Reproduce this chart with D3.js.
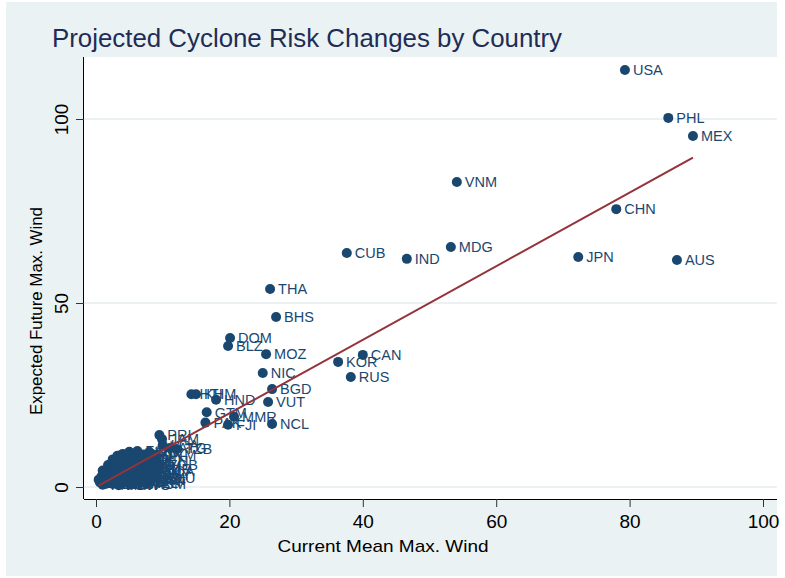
<!DOCTYPE html>
<html>
<head>
<meta charset="utf-8">
<script src="https://cdn.jsdelivr.net/npm/d3@7"></script>
<style>
  body { margin: 0; background: #fff; }
  text { font-family: "Liberation Sans", Arial, sans-serif; }
</style>
</head>
<body>
<div id="container"></div>
<script>
// labelled countries (current mean max wind, expected future max wind)
var isoCodes = ["USA","PHL","MEX","VNM","CHN","MDG","CUB","IND","JPN","AUS",
  "THA","BHS","DOM","BLZ","MOZ","CAN","KOR","RUS","NIC","BGD","VUT","NCL",
  "HTI","KHM","HND","GTM","MMR","PAK","FJI","PRI","JAM","ATG","TZB","LCA"];
var currentWind = [79.3,85.8,89.5,54.1,78.0,53.2,37.6,46.6,72.3,87.1,
  26.1,27.0,20.1,19.8,25.5,40.0,36.3,38.2,25.0,26.4,25.8,26.4,
  14.3,15.0,18.0,16.6,20.7,16.4,19.8,9.5,9.9,11.1,12.1,10.0];
var futureWind = [113.3,100.3,95.4,82.9,75.5,65.2,63.6,62.0,62.5,61.7,
  53.8,46.2,40.5,38.3,36.1,35.9,34.0,29.9,31.0,26.6,23.1,17.1,
  25.2,25.2,23.7,20.3,19.1,17.5,16.9,14.1,13.0,10.6,10.3,11.4];

// the crowded group of small countries near the origin
var smallCodes = ["BRB","DMA","GRD","KNA","VCT","TTO","SLB","TON","WSM","MUS",
  "REU","COM","SYC","MDV","LKA","OMN","YEM","SOM","DJI","ERI",
  "KEN","TZA","ZAF","ZWE","MWI","BWA","NAM","SWZ","LSO","AGO",
  "TWN","HKG","MAC","PRK","LAO","MYS","IDN","SGP","BRN","TLS",
  "PNG","PLW","FSM","MHL","KIR","TUV","NRU","NZL","COK","NIU",
  "SLV","CRI","PAN","COL","VEN","GUY","SUR","BMU","CYM","TCA",
  "VGB","VIR","ABW","ANT","GLP","MTQ","ASM","GUM","MNP","PYF"];
var smallCurrent = [0.4,0.6,0.8,1.0,1.0,1.1,1.3,1.5,1.6,1.8,
  1.8,2.0,2.1,2.3,2.5,2.5,2.6,2.8,3.0,3.1,
  3.2,3.3,3.5,3.6,3.8,3.9,4.0,4.1,4.2,4.4,
  4.6,4.7,4.9,5.0,5.0,5.2,5.3,5.5,5.6,5.8,
  6.0,6.1,6.2,6.3,6.5,6.6,6.8,7.0,7.1,7.3,
  7.5,7.7,7.9,8.0,8.2,8.4,8.6,8.9,9.0,9.2,
  9.5,2.2,3.4,4.5,5.9,6.9,7.6,1.4,2.9,8.1];
var smallFuture = [2.0,1.2,2.8,0.6,4.5,3.5,1.8,2.6,4.2,1.0,
  6.0,3.1,5.0,2.2,0.8,7.5,4.0,5.6,1.5,3.3,
  8.5,6.2,2.5,4.8,0.9,7.0,9.0,3.6,5.5,1.8,
  6.5,2.9,7.8,4.2,9.6,0.7,5.9,3.0,8.3,1.6,
  6.8,4.6,9.8,2.3,7.5,3.7,5.4,1.2,8.8,2.9,
  6.1,4.0,2.0,9.5,7.2,3.4,5.0,2.6,8.7,4.3,
  6.0,1.1,0.5,3.1,1.3,2.4,0.9,0.8,2.0,1.5];

// linear fit line
var fitIntercept = 0.0;
var fitSlope = 1.0;

var xTicks = [0, 20, 40, 60, 80, 100];
var yTicks = [0, 50, 100];

var width = 785, height = 578;
var navy = "#1a476f";

var svg = d3.select("#container").append("svg")
  .attr("width", width).attr("height", height);

// graph region
svg.append("rect").attr("x", 6).attr("y", 2).attr("width", 771).attr("height", 574)
  .attr("fill", "#eaf2f3");

var x = d3.scaleLinear().domain([0, 100]).range([96, 763]);
var y = d3.scaleLinear().domain([0, 100]).range([487, 119]);

// plot region
var plotLeft = 84, plotRight = 777, plotTop = 57, plotBottom = 499;
svg.append("rect").attr("x", plotLeft).attr("y", plotTop)
  .attr("width", plotRight - plotLeft).attr("height", plotBottom - plotTop)
  .attr("fill", "#fff");

// grid lines
svg.append("g").selectAll("line").data(yTicks).enter().append("line")
  .attr("x1", plotLeft).attr("x2", plotRight)
  .attr("y1", function(d) { return y(d); })
  .attr("y2", function(d) { return y(d); })
  .attr("stroke", "#e6eef1").attr("stroke-width", 1.5);

// title
svg.append("text").attr("x", 52).attr("y", 47)
  .attr("font-size", 26).attr("fill", "#1f2c57")
  .attr("textLength", 510).attr("lengthAdjust", "spacingAndGlyphs")
  .text("Projected Cyclone Risk Changes by Country");

// x axis
var xAxis = d3.axisBottom(x).tickValues(xTicks).tickSize(8).tickSizeOuter(0);
var gx = svg.append("g").attr("transform", "translate(0," + plotBottom + ")").call(xAxis);
gx.select(".domain").attr("d", "M" + plotLeft + ",0.5H" + plotRight).attr("stroke", "#000");
gx.selectAll(".tick line").attr("stroke", "#333");
gx.selectAll(".tick text").attr("font-size", 19).attr("fill", "#000")
  .attr("font-family", "Liberation Sans, Arial, sans-serif").attr("dy", "0.95em");

// y axis
var yAxis = d3.axisLeft(y).tickValues(yTicks).tickSize(8).tickSizeOuter(0);
var gy = svg.append("g").attr("transform", "translate(" + plotLeft + ",0)").call(yAxis);
gy.select(".domain").attr("d", "M-0.5," + plotTop + "V" + plotBottom).attr("stroke", "#000");
gy.selectAll(".tick line").attr("stroke", "#333");
gy.selectAll(".tick text").remove();
gy.selectAll(".tick").append("text")
  .attr("transform", "translate(-16,0) rotate(-90)")
  .attr("text-anchor", "middle")
  .attr("font-size", 19).attr("fill", "#000")
  .text(function(d) { return d; });

// axis titles
svg.append("text").attr("x", 383).attr("y", 552).attr("text-anchor", "middle")
  .attr("font-size", 17).attr("fill", "#000")
  .attr("textLength", 211).attr("lengthAdjust", "spacingAndGlyphs")
  .text("Current Mean Max. Wind");
svg.append("text").attr("transform", "translate(42,311) rotate(-90)")
  .attr("text-anchor", "middle").attr("font-size", 17).attr("fill", "#000")
  .attr("textLength", 208).attr("lengthAdjust", "spacingAndGlyphs")
  .text("Expected Future Max. Wind");

// build point table
var points = [];
smallCodes.forEach(function(c, i) {
  points.push({ iso: c, cur: smallCurrent[i], fut: smallFuture[i] });
});
isoCodes.forEach(function(c, i) {
  points.push({ iso: c, cur: currentWind[i], fut: futureWind[i] });
});

var plot = svg.append("g");

plot.selectAll("circle").data(points).enter().append("circle")
  .attr("cx", function(d) { return x(d.cur); })
  .attr("cy", function(d) { return y(d.fut); })
  .attr("r", 5)
  .attr("fill", navy);

plot.selectAll("text.lab").data(points).enter().append("text")
  .attr("class", "lab")
  .attr("x", function(d) { return x(d.cur) + 8; })
  .attr("y", function(d) { return y(d.fut); })
  .attr("dy", "0.36em")
  .attr("font-size", 14.5)
  .attr("fill", navy)
  .text(function(d) { return d.iso; });

// fitted line
var xExt = d3.extent(points, function(d) { return d.cur; });
svg.append("line")
  .attr("x1", x(xExt[0])).attr("y1", y(fitIntercept + fitSlope * xExt[0]))
  .attr("x2", x(xExt[1])).attr("y2", y(fitIntercept + fitSlope * xExt[1]))
  .attr("stroke", "#94333a").attr("stroke-width", 2);
</script>
</body>
</html>
